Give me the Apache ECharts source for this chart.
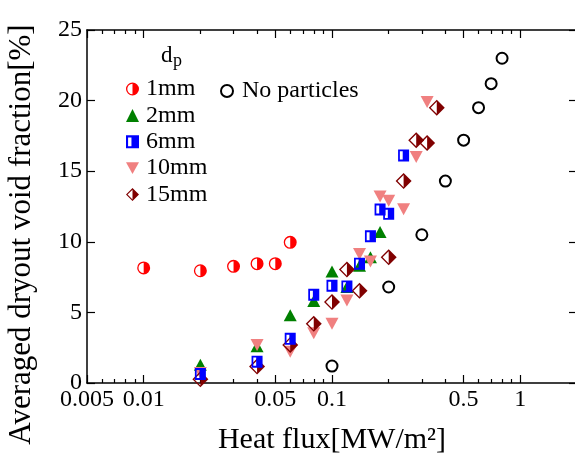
<!DOCTYPE html>
<html>
<head>
<meta charset="utf-8">
<script src="https://cdn.jsdelivr.net/npm/echarts@6/dist/echarts.min.js"></script>
<style>html,body{margin:0;padding:0;background:#fff;}#c{width:575px;height:455px;}</style>
</head>
<body>
<div id="c"></div>
<script>
// ---- data ----
const xTickLabels = [0.005, 0.01, 0.05, 0.1, 0.5, 1];
const xMinorTicks = [0.006, 0.007, 0.008, 0.009, 0.02, 0.03, 0.04, 0.06, 0.07, 0.08, 0.09,
                     0.2, 0.3, 0.4, 0.6, 0.7, 0.8, 0.9];
const yTicks = [0, 5, 10, 15, 20, 25];

const x_1mm = [0.01, 0.02, 0.03, 0.04, 0.05, 0.06];
const y_1mm = [8.15, 7.95, 8.26, 8.45, 8.45, 9.96];

const x_2mm = [0.02, 0.04, 0.06, 0.08, 0.1, 0.12, 0.14, 0.16, 0.18];
const y_2mm = [1.3, 2.6, 4.8, 5.8, 7.9, 6.8, 8.3, 8.9, 10.7];

const x_6mm = [0.02, 0.04, 0.06, 0.08, 0.1, 0.12, 0.14, 0.16, 0.18, 0.2, 0.24];
const y_6mm = [0.64, 1.51, 3.13, 6.25, 6.89, 6.84, 8.45, 10.39, 12.29, 11.98, 16.12];

const x_10mm = [0.02, 0.04, 0.06, 0.08, 0.1, 0.12, 0.14, 0.16, 0.18, 0.2, 0.24, 0.28, 0.32];
const y_10mm = [0.7, 2.7, 2.22, 3.53, 4.19, 5.85, 9.14, 8.61, 13.2, 12.9, 12.3, 16.0, 19.9];

const x_15mm = [0.02, 0.04, 0.06, 0.08, 0.1, 0.12, 0.14, 0.2, 0.24, 0.28, 0.32, 0.36];
const y_15mm = [0.26, 1.16, 2.7, 4.19, 5.73, 8.03, 6.53, 8.9, 14.3, 17.19, 17.0, 19.5];

const x_none = [0.1, 0.2, 0.3, 0.4, 0.5, 0.6, 0.7, 0.8];
const y_none = [1.2, 6.8, 10.5, 14.3, 17.2, 19.5, 21.2, 23.0];

const seriesNames = ['1mm', '2mm', '6mm', '10mm', '15mm'];
const noneName = 'No particles';

// ---- build ----
const FONT = '"Liberation Serif", "Times New Roman", serif';
const XMIN = 0.005, XMAX = 2;
const LMIN = Math.log10(XMIN), LMAX = Math.log10(XMAX);
const pair = (xs, ys) => xs.map((x, i) => [x, ys[i]]);
const lg = v => Math.log10(v);

const SYM_HALF_CIRCLE = 'path://M50 0A50 50 0 1 1 50 100A50 50 0 1 1 50 0ZM50 10A40 40 0 1 0 50 90A40 40 0 1 0 50 10ZM50 10A40 40 0 0 1 50 90Z';
const SYM_HALF_SQUARE = 'path://M0 0L100 0L100 100L0 100ZM16 16L16 84L84 84L84 16ZM42 16L84 16L84 84L42 84Z';
const SYM_HALF_DIAMOND = 'path://M50 0L100 50L50 100L0 50ZM50 12L12 50L50 88L88 50ZM50 12L88 50L50 88Z';
const SYM_DOWN_TRI = 'path://M0 0L100 0L50 90Z';

function labelFor(v) {
  let best = xTickLabels[0], d = Infinity;
  xTickLabels.forEach(t => { const dd = Math.abs(lg(t) - v); if (dd < d) { d = dd; best = t; } });
  return String(best);
}

const blackLine = { color: '#000', width: 1.5 };
const decoAxis = (pos, vals, len, showLabel, showLine) => ({
  type: 'value', position: pos, min: LMIN, max: LMAX, gridIndex: 0,
  axisLine: { show: !!showLine, onZero: false, lineStyle: blackLine },
  axisTick: { show: true, inside: true, length: len, customValues: vals.map(lg), lineStyle: { color: '#000', width: 1.2 } },
  axisLabel: showLabel ? {
    show: true, customValues: vals.map(lg), formatter: labelFor,
    color: '#000', fontFamily: FONT, fontSize: 24, margin: 5
  } : { show: false },
  splitLine: { show: false }
});

const option = {
  backgroundColor: '#fff',
  animation: false,
  grid: { left: 87, top: 30, width: 490, height: 353, containLabel: false, outerBoundsMode: 'none' },
  xAxis: [
    {
      type: 'log', logBase: 10, min: XMIN, max: XMAX, position: 'bottom',
      axisLine: { show: true, onZero: false, lineStyle: blackLine },
      axisTick: { show: false }, axisLabel: { show: false }, splitLine: { show: false },
      name: 'Heat flux[MW/m²]', nameLocation: 'middle', nameGap: 42,
      nameTextStyle: { color: '#000', fontFamily: FONT, fontSize: 30 }
    },
    decoAxis('bottom', xTickLabels, 8, true, false),
    decoAxis('bottom', xMinorTicks, 4, false, false),
    decoAxis('top', xTickLabels, 8, false, true),
    decoAxis('top', xMinorTicks, 4, false, false)
  ],
  yAxis: [
    {
      type: 'value', min: 0, max: 25, interval: 5, position: 'left',
      axisLine: { show: true, onZero: false, lineStyle: blackLine },
      axisTick: { show: true, inside: true, length: 8, lineStyle: { color: '#000', width: 1.2 } },
      axisLabel: { color: '#000', fontFamily: FONT, fontSize: 24, margin: 5,
                   customValues: yTicks },
      splitLine: { show: false },
      name: 'Averaged dryout void fraction[%]', nameLocation: 'middle', nameGap: 50,
      nameTextStyle: { color: '#000', fontFamily: FONT, fontSize: 31, padding: [0, 56, 0, 0] }
    },
    {
      type: 'value', min: 0, max: 25, interval: 5, position: 'right',
      axisLine: { show: true, onZero: false, lineStyle: blackLine },
      axisTick: { show: true, inside: true, length: 8, lineStyle: { color: '#000', width: 1.2 } },
      axisLabel: { show: false }, splitLine: { show: false }
    }
  ],
  legend: [
    {
      data: seriesNames, orient: 'vertical', left: 121, top: 72,
      itemWidth: 13, itemHeight: 13, itemGap: 2.4,
      textStyle: { color: '#000', fontFamily: FONT, fontSize: 24, lineHeight: 24, padding: [0, 0, 0, 2] },
      selectedMode: false
    },
    {
      data: [noneName], orient: 'vertical', left: 215, top: 74,
      itemWidth: 12, itemHeight: 12,
      textStyle: { color: '#000', fontFamily: FONT, fontSize: 24, lineHeight: 24, padding: [0, 0, 0, 4] },
      selectedMode: false
    }
  ],
  graphic: [
    { type: 'text', left: 161, top: 44, style: { text: 'd', font: '23px ' + FONT, fill: '#000' } },
    { type: 'text', left: 173, top: 52, style: { text: 'p', font: '18px ' + FONT, fill: '#000' } }
  ],
  series: [
    { name: '1mm', type: 'scatter', z: 2, data: pair(x_1mm, y_1mm),
      symbol: SYM_HALF_CIRCLE, symbolSize: 13, itemStyle: { color: '#ff0000', opacity: 1 } },
    { name: '2mm', type: 'scatter', z: 2, data: pair(x_2mm, y_2mm),
      symbol: 'triangle', symbolSize: [13, 12], itemStyle: { color: '#008000', opacity: 1 } },
    { name: '6mm', type: 'scatter', z: 5, data: pair(x_6mm, y_6mm),
      symbol: SYM_HALF_SQUARE, symbolSize: [11, 12], itemStyle: { color: '#0000ff', opacity: 1 } },
    { name: '10mm', type: 'scatter', z: 3, data: pair(x_10mm, y_10mm),
      symbol: SYM_DOWN_TRI, symbolSize: [13, 12], itemStyle: { color: '#f08080', opacity: 1 } },
    { name: '15mm', type: 'scatter', z: 4, data: pair(x_15mm, y_15mm),
      symbol: SYM_HALF_DIAMOND, symbolSize: 16, itemStyle: { color: '#800000', opacity: 1 } },
    { name: noneName, type: 'scatter', z: 2, data: pair(x_none, y_none),
      symbol: 'emptyCircle', symbolSize: 11,
      itemStyle: { color: '#000', borderColor: '#000', borderWidth: 1.5, opacity: 1 } }
  ]
};

const chart = echarts.init(document.getElementById('c'), null, { renderer: 'canvas' });
chart.setOption(option);
</script>
</body>
</html>
